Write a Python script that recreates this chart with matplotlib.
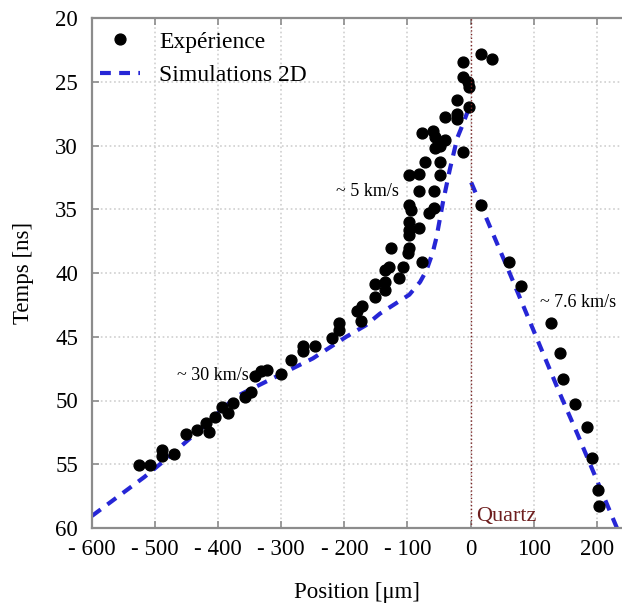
import matplotlib
matplotlib.use("Agg")
import matplotlib.pyplot as plt
from matplotlib.lines import Line2D

plt.rcParams['font.family'] = ['Liberation Serif', 'DejaVu Serif']

# experimental points (position in um, time in ns)
exp_x = [16, 34, 17, 61, 80, 128, 141, 146, 165, 184, 193, 202, 203,
         -12, -12, -4, -3, -22, -2, -40, -22, -22, -77, -59, -56, -40, -56, -49, -12,
         -73, -49, -97, -82, -49, -82, -58, -97, -94, -58, -66, -97, -98, -82, -98,
         -126, -97, -99, -77, -107, -129, -113, -135, -135, -135, -152, -152,
         -172, -180, -174, -209, -208, -219, -265, -265, -246, -284, -300, -322, -332, -341,
         -348, -357, -376, -394, -384, -405, -420, -415, -433, -451, -470, -489, -489, -508, -526]
exp_y = [22.8, 23.2, 34.7, 39.1, 41.0, 43.9, 46.25, 48.3, 50.3, 52.05, 54.5, 57.0, 58.3,
         23.45, 24.6, 25.0, 25.4, 26.4, 27.0, 27.8, 27.55, 27.95, 29.05, 28.9, 29.3, 29.55, 30.2, 30.05, 30.5,
         31.3, 31.3, 32.3, 32.2, 32.3, 33.6, 33.6, 34.7, 35.05, 34.9, 35.3, 36.0, 36.6, 36.5, 37.0,
         38.0, 38.0, 38.45, 39.1, 39.5, 39.55, 40.4, 39.8, 40.7, 41.3, 40.9, 41.85,
         42.6, 43.0, 43.75, 43.9, 44.5, 45.1, 45.7, 46.15, 45.7, 46.8, 47.9, 47.6, 47.7, 48.05,
         49.3, 49.7, 50.2, 50.5, 51.0, 51.3, 51.8, 52.45, 52.3, 52.65, 54.2, 53.9, 54.35, 55.05, 55.05]

# 2D simulation, shock in the target (left) and in quartz (right)
sim_left_x = [-600, -517, -480, -420, -372, -303, -250, -197, -166, -144, -97, -80, -70, -60, -54, -44, -33, -21, -12, -2]
sim_left_y = [59.05, 56.0, 54.5, 51.9, 49.7, 48.0, 46.7, 45.0, 44.1, 43.2, 41.7, 40.7, 39.8, 38.4, 37.2, 34.5, 31.9, 29.4, 28.3, 27.0]
sim_right_x = [1, 61, 141, 170, 232]
sim_right_y = [32.9, 39.9, 49.4, 52.7, 60.0]

xticks = [-600, -500, -400, -300, -200, -100, 0, 100, 200]
xtick_labels = ['- 600', '- 500', '- 400', '- 300', '- 200', '- 100', '0', '100', '200']
yticks = [20, 25, 30, 35, 40, 45, 50, 55, 60]

blue = '#2626d6'
grey = '#8c8c8c'

fig = plt.figure(figsize=(6.22, 6.05), dpi=100)
ax = fig.add_axes([92 / 622, 77 / 605, 1 - 92 / 622, 510 / 605])

ax.plot(sim_left_x, sim_left_y, '--', color=blue, lw=3, dashes=(2.6, 2.0))
ax.plot(sim_right_x, sim_right_y, '--', color=blue, lw=3, dashes=(2.6, 2.0))
ax.plot(exp_x, exp_y, 'o', color='black', ms=7.8, ls='none')

ax.axvline(0, color='#7a2424', lw=1, ls=':')

ax.text(-213, 33.6, '~ 5 km/s', fontsize=13, va='center')
ax.text(-465, 48.0, '~ 30 km/s', fontsize=13, va='center')
ax.text(110, 42.35, '~ 7.6 km/s', fontsize=13, va='center')
ax.text(9, 59.1, 'Quartz', fontsize=16, color='#6e1e1e', va='center')

ax.set_xlim(-600, 240)
ax.set_ylim(60, 20)
ax.set_xticks(xticks)
ax.set_xticklabels(xtick_labels)
ax.set_yticks(yticks)
ax.tick_params(direction='in', length=5, width=1.2, color=grey, labelsize=16.5,
               top=True, right=False)
ax.tick_params(axis='x', pad=8)
ax.tick_params(axis='y', pad=10)
ax.grid(True, ls=':', color='#cfcfcf', lw=1.2)

for side in ['left', 'top', 'bottom']:
    ax.spines[side].set_color(grey)
    ax.spines[side].set_linewidth(1.6)
ax.spines['right'].set_visible(False)

ax.set_xlabel('Position [μm]', fontsize=16.5, labelpad=16)
ax.set_ylabel('Temps [ns]', fontsize=16.5, labelpad=15)

handles = [Line2D([], [], marker='o', color='black', ms=7.8, ls='none'),
           Line2D([], [], color=blue, lw=3, ls='--', dashes=(2.6, 2.0))]
fig.legend(handles, ['Expérience', 'Simulations 2D'], loc='upper left',
           bbox_to_anchor=(100 / 622, 1 - 31 / 605), frameon=False, fontsize=17,
           handlelength=1.7, handletextpad=0.8, borderpad=0, borderaxespad=0,
           labelspacing=0.5)

fig.savefig('out.png', dpi=100)
